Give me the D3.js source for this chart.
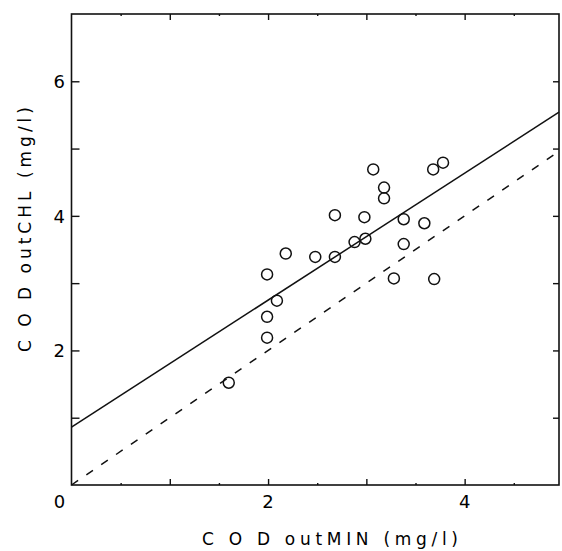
<!DOCTYPE html>
<html>
<head>
<meta charset="utf-8">
<script src="https://cdn.jsdelivr.net/npm/d3@7"></script>
<style>
  body { margin: 0; background: #fff; }
  text { font-family: "DejaVu Sans", sans-serif; fill: #000; }
</style>
</head>
<body>
<script>
// values
var codMin = [3.07, 3.18, 3.18, 3.68, 3.78, 2.68, 2.98, 3.38, 3.59, 2.88, 2.99,
              3.38, 2.18, 2.48, 2.68, 1.99, 3.28, 3.69, 2.09, 1.99, 1.99, 1.60];
var codChl = [4.69, 4.42, 4.26, 4.69, 4.79, 4.01, 3.98, 3.95, 3.89, 3.61, 3.66,
              3.58, 3.44, 3.39, 3.39, 3.13, 3.07, 3.06, 2.74, 2.50, 2.19, 1.52];
var fitLine = [[0, 0.86], [4.96, 5.54]];
var oneToOne = [[0, 0], [4.96, 4.96]];
var xLabels = [0, 2, 4];
var yLabels = [2, 4, 6];
var majorTicks = [1, 2, 3, 4, 5, 6];
var halfTicks = [0.5, 1.5, 2.5, 3.5, 4.5];

var svg = d3.select('body').append('svg')
  .attr('width', 562)
  .attr('height', 551);

var x = d3.scaleLinear().domain([0, 4.96]).range([71.5, 559]);
var y = d3.scaleLinear().domain([0, 7]).range([485, 14]);

// frame
svg.append('rect')
  .attr('x', x(0))
  .attr('y', y(7))
  .attr('width', x(4.96) - x(0))
  .attr('height', y(0) - y(7))
  .attr('fill', 'none')
  .attr('stroke', '#111')
  .attr('stroke-width', 1.6);

function ticks(axis, vals, size, tx, ty) {
  var g = svg.append('g')
    .attr('transform', 'translate(' + tx + ',' + ty + ')')
    .call(axis.tickValues(vals).tickSize(size).tickFormat(''));
  g.select('.domain').remove();
  g.selectAll('line').attr('stroke', '#111').attr('stroke-width', 1.4);
}

var xInt = majorTicks.filter(function(d){ return d < 4.96; });
ticks(d3.axisBottom(x), xInt, -6, 0, y(0));
ticks(d3.axisBottom(x), halfTicks, -2, 0, y(0));
ticks(d3.axisTop(x), xInt, -6, 0, y(7));
ticks(d3.axisTop(x), halfTicks, -2, 0, y(7));
ticks(d3.axisLeft(y), majorTicks, -8, x(0), 0);
ticks(d3.axisRight(y), majorTicks, -6, x(4.96), 0);

// tick labels
svg.selectAll('.xl').data(xLabels).enter().append('text')
  .attr('x', function(d){ return d == 0 ? x(0) - 12 : x(d); })
  .attr('y', 508)
  .attr('text-anchor', 'middle')
  .attr('font-size', 18)
  .text(function(d){ return d; });

svg.selectAll('.yl').data(yLabels).enter().append('text')
  .attr('x', 65)
  .attr('y', function(d){ return y(d) + 7; })
  .attr('text-anchor', 'end')
  .attr('font-size', 18)
  .text(function(d){ return d; });

// axis titles
svg.append('text')
  .attr('x', 202)
  .attr('y', 545)
  .attr('font-size', 17)
  .attr('textLength', 256)
  .attr('lengthAdjust', 'spacing')
  .text('C O D outMIN (mg/l)');

svg.append('text')
  .attr('transform', 'translate(31,352) rotate(-90)')
  .attr('font-size', 17)
  .attr('textLength', 245)
  .attr('lengthAdjust', 'spacing')
  .text('C O D outCHL (mg/l)');

var line = d3.line()
  .x(function(d){ return x(d[0]); })
  .y(function(d){ return y(d[1]); });

svg.append('path')
  .attr('d', line(fitLine))
  .attr('fill', 'none')
  .attr('stroke', '#111')
  .attr('stroke-width', 1.5);

svg.append('path')
  .attr('d', line(oneToOne))
  .attr('fill', 'none')
  .attr('stroke', '#111')
  .attr('stroke-width', 1.5)
  .attr('stroke-dasharray', '8,10');

svg.selectAll('circle').data(codMin).enter().append('circle')
  .attr('cx', function(d){ return x(d); })
  .attr('cy', function(d, i){ return y(codChl[i]); })
  .attr('r', 5.5)
  .attr('fill', 'none')
  .attr('stroke', '#111')
  .attr('stroke-width', 1.5);
</script>
</body>
</html>
